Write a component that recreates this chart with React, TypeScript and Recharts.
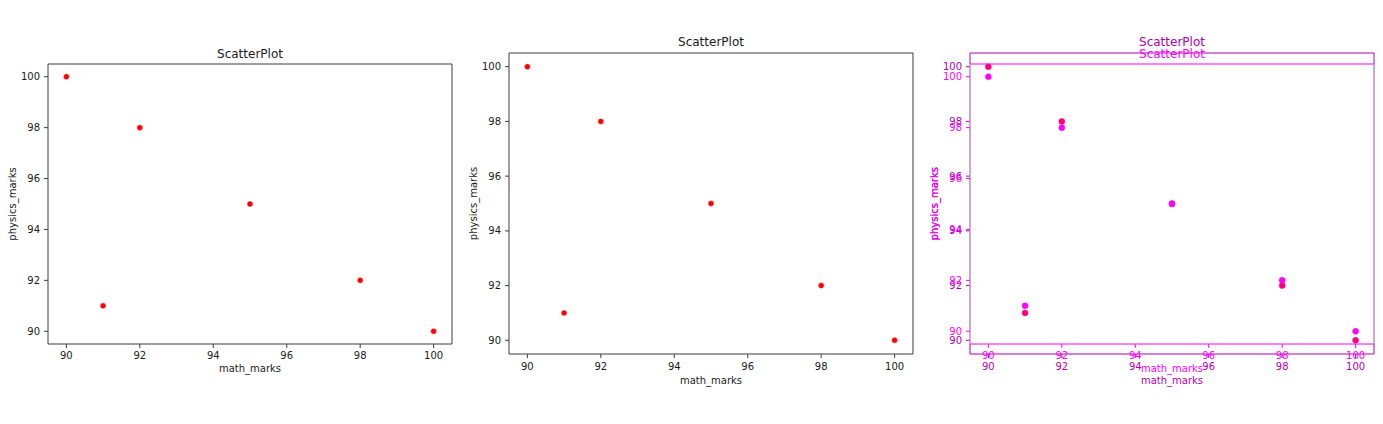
import { ScatterChart, Scatter, XAxis, YAxis, ReferenceLine } from 'recharts';

const mathMarks = [90, 91, 92, 95, 98, 100];
const physicsMarks = [100, 91, 98, 95, 92, 90];
const axisTicks = [90, 92, 94, 96, 98, 100];
const axisDomain = [89.5, 100.5];

const data = mathMarks.map((m, i) => ({ math_marks: m, physics_marks: physicsMarks[i] }));

// space around the plot area inside each chart
const Y_W = 48;
const TOP = 30;
const RIGHT = 10;
const X_H = 16;
const BOTTOM = 30;

interface Theme {
  text: string;
  spine: string;
  side: string;
  dot: string;
  edge: string;
}

const normal: Theme = { text: '#1a1a1a', spine: '#3c3c3c', side: '#3c3c3c', dot: '#ff0000', edge: '#ffffff' };
const diffDark: Theme = { text: '#b000b0', spine: '#b000b0', side: '#b000b0', dot: '#ff0080', edge: '#ff0080' };
const diffBright: Theme = { text: '#ff00ff', spine: '#ff00ff', side: '#cccccc', dot: '#ff00ff', edge: '#ff00ff' };

interface PanelProps {
  left: number;
  top: number;
  w: number;
  h: number;
  theme: Theme;
  tickGap: number;
  labelGap: number;
  titleGap: number;
}

const Panel = ({ left, top, w, h, theme, tickGap, labelGap, titleGap }: PanelProps) => {
  const tick = { fill: theme.text, fontSize: 10 };
  const dot = (p: any) => (
    <circle cx={p.cx} cy={p.cy} r={3} fill={theme.dot} stroke={theme.edge} strokeWidth={0.5} />
  );
  return (
    <div style={{ position: 'absolute', left: left - Y_W, top: top - TOP }}>
      <div
        style={{
          position: 'absolute',
          left: Y_W,
          width: w,
          top: TOP - titleGap,
          fontSize: 12,
          lineHeight: '12px',
          textAlign: 'center',
          color: theme.text,
        }}
      >
        ScatterPlot
      </div>
      <ScatterChart
        width={Y_W + w + RIGHT}
        height={TOP + h + X_H + BOTTOM}
        margin={{ top: TOP, right: RIGHT, bottom: BOTTOM, left: 0 }}
      >
        <XAxis
          type="number"
          dataKey="math_marks"
          domain={axisDomain}
          ticks={axisTicks}
          height={X_H}
          tick={tick}
          tickSize={4}
          tickMargin={tickGap}
          tickLine={{ stroke: theme.spine }}
          axisLine={{ stroke: theme.spine }}
          label={{ value: 'math_marks', position: 'bottom', offset: labelGap, fill: theme.text, fontSize: 10 }}
        />
        <YAxis
          type="number"
          dataKey="physics_marks"
          domain={axisDomain}
          ticks={axisTicks}
          width={Y_W}
          tick={tick}
          tickSize={4}
          tickMargin={4}
          tickLine={{ stroke: theme.spine }}
          axisLine={{ stroke: theme.side }}
          label={{
            value: 'physics_marks',
            angle: -90,
            position: 'insideLeft',
            offset: 12,
            fill: theme.text,
            fontSize: 10,
            style: { textAnchor: 'middle' },
          }}
        />
        {/* top and right spines */}
        <ReferenceLine y={axisDomain[1]} stroke={theme.spine} />
        <ReferenceLine x={axisDomain[1]} stroke={theme.side} />
        <Scatter data={data} shape={dot} isAnimationActive={false} />
      </ScatterChart>
    </div>
  );
};

export default function App() {
  return (
    <div
      style={{
        position: 'absolute',
        left: 0,
        top: 0,
        width: 1383,
        height: 424,
        background: '#fff',
        fontFamily: '"DejaVu Sans", sans-serif',
        fontSize: 10,
        overflow: 'hidden',
      }}
    >
      <Panel left={48} top={64} w={404} h={280} theme={normal} tickGap={3.5} labelGap={5} titleGap={16} />
      <Panel left={509} top={53} w={404} h={301} theme={normal} tickGap={5} labelGap={7} titleGap={17} />
      <Panel left={970} top={53} w={404} h={301} theme={diffDark} tickGap={5} labelGap={7} titleGap={17} />
      <Panel left={970} top={64} w={404} h={280} theme={diffBright} tickGap={3.5} labelGap={5} titleGap={16} />
    </div>
  );
}
